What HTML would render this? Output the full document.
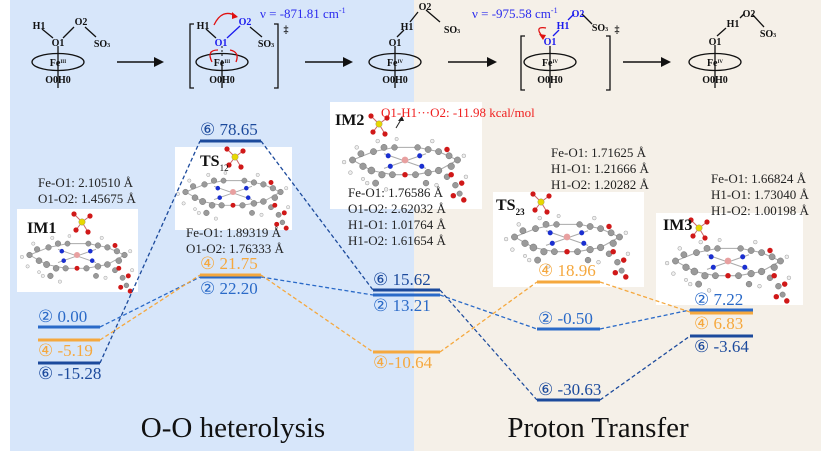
<!DOCTYPE html>
<html><head><meta charset="utf-8"><style>
html,body{margin:0;padding:0;background:#fff;}
svg{display:block;font-family:"Liberation Serif",serif;}
</style></head><body>
<svg width="827" height="454" viewBox="0 0 827 454" xmlns="http://www.w3.org/2000/svg">
<defs>
<g id="por">
 <g stroke="#aaa" stroke-width="1" fill="none">
  <path d="M-50,0 L-30,-8 L-10,-12 L12,-12 L32,-8 L50,0 L32,10 L10,14 L-12,14 L-32,10 Z"/>
  <path d="M-20,-6 L20,8 M-20,8 L20,-6"/>
 </g>
 <g fill="#9a9a9a" stroke="#666" stroke-width="0.4">
  <circle cx="-50" cy="0" r="3"/><circle cx="-42" cy="-6" r="3"/><circle cx="-40" cy="6" r="3.2"/>
  <circle cx="-30" cy="-8" r="3"/><circle cx="-32" cy="10" r="3.4"/><circle cx="-20" cy="-12" r="3"/>
  <circle cx="-22" cy="14" r="3.2"/><circle cx="-10" cy="-12" r="2.8"/><circle cx="-12" cy="14" r="3"/>
  <circle cx="12" cy="-12" r="2.8"/><circle cx="10" cy="14" r="3"/><circle cx="22" cy="-10" r="3"/>
  <circle cx="22" cy="12" r="3.2"/><circle cx="32" cy="-8" r="3"/><circle cx="32" cy="10" r="3.2"/>
  <circle cx="42" cy="-4" r="3"/><circle cx="44" cy="6" r="3.2"/><circle cx="50" cy="0" r="3"/>
  <circle cx="-28" cy="22" r="3"/><circle cx="20" cy="22" r="2.8"/><circle cx="40" cy="16" r="2.8"/>
  <circle cx="48" cy="24" r="2.8"/><circle cx="52" cy="32" r="2.6"/>
 </g>
 <g fill="#eee" stroke="#888" stroke-width="0.4">
  <circle cx="-58" cy="2" r="1.8"/><circle cx="-52" cy="12" r="1.8"/><circle cx="-46" cy="-12" r="1.8"/>
  <circle cx="-36" cy="22" r="1.8"/><circle cx="-26" cy="-18" r="1.8"/><circle cx="-18" cy="28" r="1.8"/>
  <circle cx="26" cy="-18" r="1.8"/><circle cx="30" cy="24" r="1.8"/><circle cx="56" cy="-4" r="1.8"/>
  <circle cx="58" cy="16" r="1.8"/><circle cx="-40" cy="18" r="1.6"/><circle cx="-8" cy="-20" r="1.6"/>
 </g>
 <g fill="#1a2fd0"><circle cx="-16" cy="-4" r="2.4"/><circle cx="14" cy="-4" r="2.4"/><circle cx="-14" cy="6" r="2.4"/><circle cx="16" cy="6" r="2.4"/></g>
 <g fill="#d01818"><circle cx="40" cy="-10" r="2.6"/><circle cx="44" cy="14" r="2.6"/><circle cx="54" cy="22" r="2.6"/><circle cx="46" cy="34" r="2.6"/><circle cx="56" cy="38" r="2.6"/><circle cx="0" cy="14" r="2.6"/></g>
 <circle cx="0" cy="0" r="3.2" fill="#e8a0a0"/>
</g>
<g id="sul">
 <path d="M0,0 L-8,-8 M0,0 L8,-6 M0,0 L-6,8 M0,0 L6,10" stroke="#c66" stroke-width="1"/>
 <circle cx="0" cy="0" r="3.2" fill="#e8d800" stroke="#886" stroke-width="0.4"/>
 <g fill="#d01818"><circle cx="-8" cy="-8" r="2.6"/><circle cx="8" cy="-6" r="2.6"/><circle cx="-6" cy="8" r="2.6"/><circle cx="6" cy="10" r="2.6"/></g>
</g>
</defs>
<rect x="10" y="0" width="404" height="451" fill="#d7e6fa"/>
<rect x="414" y="0" width="407" height="451" fill="#f5f0e8"/>

<rect x="17" y="209" width="121" height="83" fill="#fff"/>
<rect x="175" y="147" width="117" height="83" fill="#fff"/>
<rect x="330" y="102" width="152" height="107" fill="#fff"/>
<rect x="493" y="192" width="151" height="95" fill="#fff"/>
<rect x="656" y="213" width="147" height="92" fill="#fff"/>

<use href="#por" transform="translate(77,255) scale(0.95)"/>
<use href="#sul" transform="translate(82,222)"/>
<use href="#por" transform="translate(233,192) scale(0.95)"/>
<use href="#sul" transform="translate(235,157)"/>
<use href="#por" transform="translate(405,160) scale(1.05)"/>
<use href="#sul" transform="translate(379,124)"/>
<use href="#por" transform="translate(567,237) scale(1.05)"/>
<use href="#sul" transform="translate(541,202)"/>
<use href="#por" transform="translate(728,261) scale(1.05)"/>
<use href="#sul" transform="translate(699,228)"/>
<path d="M402,118 L396,128" stroke="#222" stroke-width="1"/><path d="M402,116 L398,121 L404,121 Z" fill="#222"/>

<g font-size="10" font-weight="bold" fill="#111" text-anchor="middle">
 <g stroke="#111" stroke-width="1.3" fill="none">
  <path d="M42,29 L53,38 M63,38 L74,27 M85,27 L96,37 M58,46 L58,88"/>
  <ellipse cx="58" cy="62" rx="26" ry="8.5"/>
 </g>
 <text x="39" y="29">H1</text><text x="81" y="25">O2</text><text x="58" y="46">O1</text><text x="102" y="47">SO<tspan font-size="6">3</tspan></text>
 <text x="58" y="66">Fe<tspan font-size="5" dy="-3">III</tspan></text><text x="58" y="83">O0H0</text>
 <g stroke="#111" stroke-width="1.3" fill="none">
  <path d="M206,29 L216,38 M250,27 L262,37 M222,60 L222,88"/>
  <ellipse cx="222" cy="62" rx="26" ry="8.5"/>
  <path d="M194,24 L190,24 L190,88 L194,88 M274,24 L278,24 L278,88 L274,88"/>
 </g>
 <path d="M227,38 L240,26" stroke="#1a1aee" stroke-width="1.3"/>
 <path d="M222,46 L222,58" stroke="#111" stroke-dasharray="2,2"/>
 <path d="M214,25 Q222,8 236,16" stroke="#e01010" stroke-width="1.3" fill="none"/><path d="M238,17 L232,12 L232,19 Z" fill="#e01010"/>
 <path d="M212,62 Q206,50 218,50 M230,50 Q240,52 236,62" stroke="#e01010" stroke-width="1.3" fill="none"/>
 <text x="203" y="29">H1</text><text x="245" y="25" fill="#1a1aee">O2</text><text x="221" y="46" fill="#1a1aee">O1</text><text x="266" y="47">SO<tspan font-size="6">3</tspan></text>
 <text x="222" y="66">Fe<tspan font-size="5" dy="-3">III</tspan></text><text x="222" y="83">O0H0</text>
 <text x="286" y="33" font-size="10">‡</text>
 <g stroke="#111" stroke-width="1.3" fill="none">
  <path d="M397,37 L404,30 M410,22 L418,12 M426,10 L440,22 M395,46 L395,88"/>
  <ellipse cx="395" cy="62" rx="26" ry="8.5"/>
 </g>
 <text x="407" y="30">H1</text><text x="425" y="10">O2</text><text x="395" y="46">O1</text><text x="452" y="33">SO<tspan font-size="6">3</tspan></text>
 <text x="395" y="66">Fe<tspan font-size="5" dy="-3">IV</tspan></text><text x="395" y="83">O0H0</text>
 <g stroke="#111" stroke-width="1.3" fill="none">
  <path d="M582,14 L592,24 M550,46 L550,88"/>
  <ellipse cx="550" cy="62" rx="26" ry="8.5"/>
  <path d="M525,36 L521,36 L521,90 L525,90 M606,36 L610,36 L610,90 L606,90"/>
 </g>
 <path d="M553,36 L559,30 M568,20 L574,14" stroke="#1a1aee" stroke-width="1.3"/>
 <path d="M542,36 Q534,26 546,28" stroke="#e01010" stroke-width="1.3" fill="none"/><path d="M543,40 L539,34 L546,35 Z" fill="#e01010"/>
 <text x="563" y="29" fill="#1a1aee">H1</text><text x="578" y="17" fill="#1a1aee">O2</text><text x="550" y="45" fill="#1a1aee">O1</text><text x="600" y="31">SO<tspan font-size="6">3</tspan></text>
 <text x="550" y="66">Fe<tspan font-size="5" dy="-3">IV</tspan></text><text x="550" y="83">O0H0</text>
 <text x="617" y="33" font-size="10">‡</text>
 <g stroke="#111" stroke-width="1.3" fill="none">
  <path d="M717,36 L726,28 M740,18 L744,14 M752,14 L764,27 M715,45 L715,88"/>
  <ellipse cx="715" cy="62" rx="26" ry="8.5"/>
 </g>
 <text x="733" y="27">H1</text><text x="749" y="17">O2</text><text x="715" y="45">O1</text><text x="768" y="37">SO<tspan font-size="6">3</tspan></text>
 <text x="715" y="66">Fe<tspan font-size="5" dy="-3">IV</tspan></text><text x="715" y="83">O0H0</text>
</g>
<text x="260" y="18" font-size="13" fill="#2a2aee">ν = -871.81 cm<tspan font-size="8" dy="-5">-1</tspan></text>
<text x="472" y="18" font-size="13" fill="#2a2aee">ν = -975.58 cm<tspan font-size="8" dy="-5">-1</tspan></text>
<g stroke="#111" stroke-width="1.5">
 <path d="M117,62 L156,62 M305,62 L345,62 M448,62 L489,62 M623,62 L663,62"/>
</g>
<g fill="#111">
 <path d="M164,62 L154,57 L154,67 Z"/><path d="M353,62 L343,57 L343,67 Z"/><path d="M497,62 L487,57 L487,67 Z"/><path d="M671,62 L661,57 L661,67 Z"/>
</g>

<g fill="none" stroke-width="1.3" stroke-dasharray="4,2.5">
 <path d="M100,327 L200,277 M261,277 L373,295 M440,295 L537,329 M600,329 L690,310" stroke="#2a6ac8"/>
 <path d="M100,363 L200,141 M261,141 L373,290 M440,290 L537,400 M600,400 L690,336" stroke="#1c4a9c"/>
 <path d="M100,340 L200,275 M261,275 L373,352 M440,352 L537,282 M600,282 L690,312" stroke="#f5a83e"/>
</g>
<g stroke-width="3">
 <path d="M38,327 L100,327 M200,277 L261,277 M373,295 L440,295 M537,329 L600,329 M690,310 L753,310" stroke="#2a6ac8"/>
 <path d="M38,363 L100,363 M200,141 L261,141 M373,290 L440,290 M537,400 L600,400 M690,336 L753,336" stroke="#1c4a9c"/>
 <path d="M38,340 L100,340 M200,275 L261,275 M373,352 L440,352 M537,282 L600,282 M690,313 L753,313" stroke="#f5a83e"/>
</g>
<g font-size="17">
 <g fill="#2a6ac8"><text x="38" y="322">② 0.00</text><text x="200" y="294">② 22.20</text><text x="373" y="311">② 13.21</text><text x="538" y="324">② -0.50</text><text x="694" y="305">② 7.22</text></g>
 <g fill="#1c4a9c"><text x="38" y="379">⑥ -15.28</text><text x="200" y="135">⑥ 78.65</text><text x="373" y="285">⑥ 15.62</text><text x="538" y="395">⑥ -30.63</text><text x="694" y="352">⑥ -3.64</text></g>
 <g fill="#f5a83e"><text x="38" y="356">④ -5.19</text><text x="200" y="269">④ 21.75</text><text x="373" y="368">④-10.64</text><text x="538" y="276">④ 18.96</text><text x="694" y="329">④ 6.83</text></g>
</g>
<g font-size="13" fill="#222">
 <text x="38" y="187">Fe-O1: 2.10510 Å</text><text x="38" y="203">O1-O2: 1.45675 Å</text>
 <text x="186" y="237">Fe-O1: 1.89319 Å</text><text x="186" y="253">O1-O2: 1.76333 Å</text>
 <text x="348" y="197">Fe-O1: 1.76586 Å</text><text x="348" y="213">O1-O2: 2.62032 Å</text><text x="348" y="229">H1-O1: 1.01764 Å</text><text x="348" y="245">H1-O2:  1.61654 Å</text>
 <text x="551" y="157">Fe-O1: 1.71625 Å</text><text x="551" y="173">H1-O1: 1.21666 Å</text><text x="551" y="189">H1-O2: 1.20282 Å</text>
 <text x="711" y="183">Fe-O1: 1.66824 Å</text><text x="711" y="199">H1-O1: 1.73040 Å</text><text x="711" y="215">H1-O2:  1.00198 Å</text>
</g>
<text x="381" y="117" font-size="13" fill="#f02020">O1-H1···O2: -11.98 kcal/mol</text>
<g font-size="16" font-weight="bold" fill="#111">
 <text x="27" y="233">IM1</text>
 <text x="200" y="166">TS<tspan font-size="9" font-weight="normal" dy="5">12</tspan></text>
 <text x="335" y="125">IM2</text>
 <text x="496" y="210">TS<tspan font-size="9" dy="5">23</tspan></text>
 <text x="663" y="230">IM3</text>
</g>
<text x="233" y="437" font-size="29" fill="#111" text-anchor="middle">O-O heterolysis</text>
<text x="598" y="437" font-size="29" fill="#111" text-anchor="middle">Proton Transfer</text>
</svg>
</body></html>
